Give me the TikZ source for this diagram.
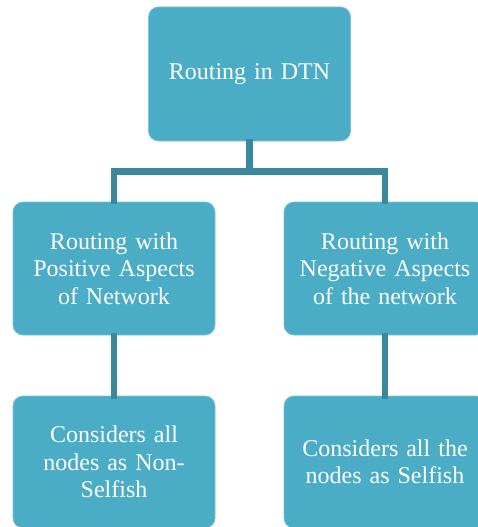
\documentclass[tikz,border=0pt]{standalone}
\usepackage{fontspec}
\setmainfont[WordSpace=0.85]{Liberation Serif}
\definecolor{boxfill}{RGB}{75,172,198}
\definecolor{boxedge}{RGB}{120,195,215}
\definecolor{linkcol}{RGB}{58,136,158}
\begin{document}
\begin{tikzpicture}[x=1pt,y=-1pt,
  tree box/.style={draw=boxedge, line width=0.8pt, fill=boxfill, rounded corners=10pt,
    minimum width=202pt, text width=196pt, align=center, text=white,
    font=\fontsize{24}{27.5}\selectfont, inner sep=0pt},
  link/.style={draw=linkcol, line width=6.5pt}]
\useasboundingbox (0,0) rectangle (477,527);
\node[tree box, minimum height=134pt] (root) at (249.5,74) {Routing in DTN};
\node[tree box, minimum height=133pt] (pos) at (114,268.5) {Routing with\\Positive Aspects\\of Network};
\node[tree box, minimum height=133pt] (neg) at (385,268.5) {Routing with\\Negative Aspects\\of the network};
\node[tree box, minimum height=132pt] (nonself) at (114,462) {Considers all\\nodes as Non-\\Selfish};
\node[tree box, minimum height=132pt] (self) at (385,462) {Considers all the\\nodes as Selfish};
\coordinate (bus) at (249.5,171.5);
\draw[link] (root.south) ++(0,-2) -- (bus);
\draw[link] ([yshift=-2pt]pos.north) -- (pos.north |- bus) -- (neg.north |- bus) -- ([yshift=-2pt]neg.north);
\draw[link] ([yshift=2pt]pos.south) -- ([yshift=-3pt]nonself.north);
\draw[link] ([yshift=2pt]neg.south) -- ([yshift=-3pt]self.north);
\end{tikzpicture}
\end{document}
